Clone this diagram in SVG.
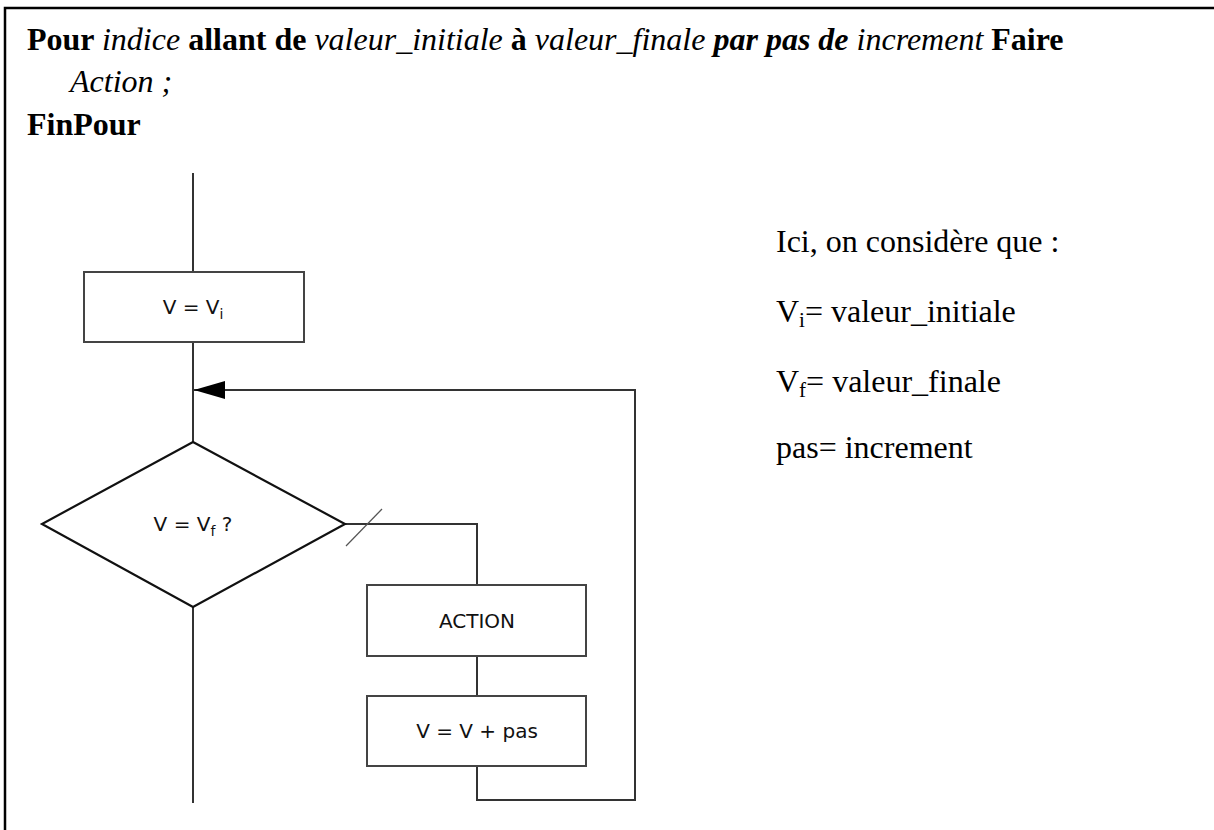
<svg xmlns="http://www.w3.org/2000/svg" width="1214" height="830" viewBox="0 0 1214 830">
<style>
.t{font-family:"Liberation Serif","Times New Roman",serif;font-size:32px;fill:#000}
.b{font-weight:bold}
.i{font-style:italic}
.f{font-family:"DejaVu Sans","Liberation Sans",Arial,sans-serif;font-size:20px;fill:#111}
.box{fill:#fff;stroke:#444;stroke-width:2}
.ln{fill:none;stroke:#333;stroke-width:2}
</style>
<defs>
<marker id="ah" markerWidth="32" markerHeight="20" refX="31" refY="10" orient="auto" markerUnits="userSpaceOnUse">
<path d="M0,1 L31,10 L0,19 Z" fill="#000"/>
</marker>
</defs>
<rect width="1214" height="830" fill="#fff"/>
<path d="M5,830 V8 H1214" fill="none" stroke="#000" stroke-width="2.5"/>

<g id="header">
<text class="t" x="27" y="50"><tspan class="b">Pour </tspan><tspan class="i">indice</tspan><tspan class="b"> allant de </tspan><tspan class="i">valeur_initiale</tspan><tspan class="b"> à </tspan><tspan class="i">valeur_finale </tspan><tspan class="b i">par pas de </tspan><tspan class="i">increment</tspan><tspan class="b"> Faire</tspan></text>
<text class="t i" x="70" y="92">Action ;</text>
<text class="t b" x="27" y="135">FinPour</text>
</g>

<g id="legend">
<text class="t" x="776" y="252">Ici, on considère que :</text>
<text class="t" x="776" y="322">V<tspan font-size="21" dy="5">i</tspan><tspan dy="-5">= valeur_initiale</tspan></text>
<text class="t" x="776" y="392">V<tspan font-size="21" dy="5">f</tspan><tspan dy="-5">= valeur_finale</tspan></text>
<text class="t" x="776" y="458">pas= increment</text>
</g>

<g id="connectors">
<line class="ln" x1="193" y1="173" x2="193" y2="272"/>
<line class="ln" x1="193" y1="342" x2="193" y2="442"/>
<line class="ln" x1="193" y1="607" x2="193" y2="803"/>
<polyline class="ln" points="345,524 477,524 477,585"/>
<line class="ln" x1="477" y1="656" x2="477" y2="696"/>
<polyline class="ln" points="477,766 477,800 635,800 635,390 194,390" marker-end="url(#ah)"/>
<line x1="346" y1="546" x2="382" y2="509" stroke="#555" stroke-width="1.2"/>
</g>

<g id="init">
<rect class="box" x="84" y="272" width="220" height="70"/>
<text class="f" x="193" y="314" text-anchor="middle">V = V<tspan font-size="14" dy="5">i</tspan></text>
</g>

<g id="test">
<polygon points="193,442 345,524 193,607 42,524" fill="#fff" stroke="#111" stroke-width="2.2"/>
<text class="f" x="193" y="531" text-anchor="middle">V = V<tspan font-size="14" dy="5">f</tspan><tspan dy="-5"> ?</tspan></text>
</g>

<g id="action">
<rect class="box" x="367" y="585" width="219" height="71"/>
<text class="f" x="477" y="628" text-anchor="middle">ACTION</text>
</g>

<g id="incr">
<rect class="box" x="367" y="696" width="219" height="70"/>
<text class="f" x="477" y="738" text-anchor="middle">V = V + pas</text>
</g>
</svg>
